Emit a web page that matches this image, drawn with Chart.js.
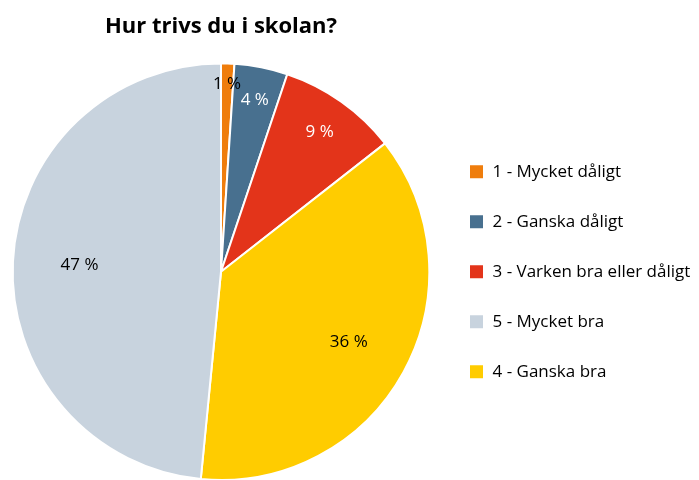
<!DOCTYPE html>
<html>
<head>
<meta charset="utf-8">
<script src="https://cdn.jsdelivr.net/npm/chart.js@4.4.0/dist/chart.umd.min.js"></script>
<style>
  html, body { margin: 0; padding: 0; background: #fff; overflow: hidden; }
  #wrap { width: 699px; height: 484px; }
</style>
</head>
<body>
<div id="wrap"><canvas id="myChart" width="699" height="484"></canvas></div>
<script>
// svarsalternativ i samma ordning som tårtbitarna (medurs från kl 12)
const categories = ['1 - Mycket dåligt', '2 - Ganska dåligt', '3 - Varken bra eller dåligt', '4 - Ganska bra', '5 - Mycket bra'];
const percents = [1, 4, 9, 36, 47];
// legenden visar 5 före 4
const legendOrder = [0, 1, 2, 4, 3];

const colors = ['#EF7D0C', '#48708F', '#E3341A', '#FFCC00', '#C8D3DE'];
const labelColors = ['#000', '#fff', '#fff', '#000', '#000'];
const labelDist = [0.9, 0.84, 0.82, 0.7, 0.68];

const fontFamily = '"Open Sans", "Noto Sans", sans-serif';

const pieLabels = {
    id: 'pieLabels',
    afterDatasetsDraw(chart) {
        const ctx = chart.ctx;
        const meta = chart.getDatasetMeta(0);
        ctx.save();
        ctx.font = '17px ' + fontFamily;
        ctx.textAlign = 'center';
        ctx.textBaseline = 'middle';
        meta.data.forEach(function (arc, i) {
            const mid = (arc.startAngle + arc.endAngle) / 2;
            const r = arc.outerRadius * labelDist[i];
            ctx.fillStyle = labelColors[i];
            ctx.fillText(percents[i] + ' %', arc.x + Math.cos(mid) * r, arc.y + Math.sin(mid) * r);
        });
        ctx.restore();
    }
};

const ctx = document.getElementById('myChart');
new Chart(ctx, {
    type: 'pie',
    data: {
        labels: categories,
        datasets: [{
            data: percents,
            backgroundColor: colors,
            borderColor: '#fff',
            borderWidth: 2
        }]
    },
    options: {
        responsive: false,
        animation: false,
        layout: { padding: { left: 6, right: 0, top: 0, bottom: 3 } },
        plugins: {
            title: {
                display: true,
                text: 'Hur trivs du i skolan?',
                fullSize: false,
                color: '#000',
                font: { family: fontFamily, size: 22, weight: 'bold' },
                padding: { top: 14, bottom: 22 }
            },
            legend: {
                position: 'right',
                fullSize: false,
                maxWidth: 263,
                labels: {
                    boxWidth: 15,
                    boxHeight: 15,
                    padding: 33,
                    color: '#000',
                    font: { family: fontFamily, size: 17 },
                    sort: (a, b) => legendOrder.indexOf(a.index) - legendOrder.indexOf(b.index)
                }
            },
            tooltip: { enabled: false }
        }
    },
    plugins: [pieLabels]
});
</script>
</body>
</html>
